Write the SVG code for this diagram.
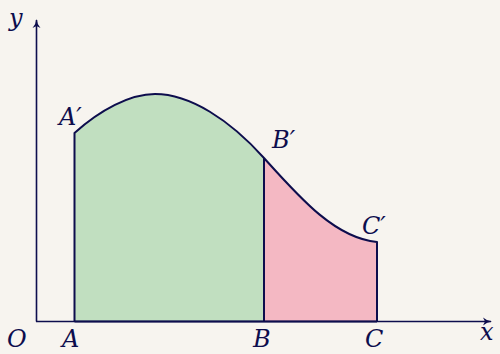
<svg xmlns="http://www.w3.org/2000/svg" width="500" height="354" viewBox="0 0 500 354">
<style>
.ln{fill:none;stroke:#0d0d4d;stroke-width:2;stroke-linejoin:round}
.ax{fill:none;stroke:#0d0d4d;stroke-width:1.6}
.lb{font-family:"DejaVu Serif","Liberation Serif",serif;font-style:italic;font-size:24px;fill:#0d0d4d}
.pr{font-size:30px}
</style>
<defs>
<marker id="ar" viewBox="0 0 10 10" refX="8" refY="5" markerWidth="10" markerHeight="10" markerUnits="userSpaceOnUse" orient="auto">
<path d="M0,1 Q4,4.5 9,5 Q4,5.5 0,9 L2,5 Z" fill="#0d0d4d"/>
</marker>
</defs>
<rect width="500" height="354" fill="#f7f4ef"/>
<g id="regions">
<path id="green" d="M74.5,321.5 L74.5,133 C100,110 130,94 155,94 C190,94 230,120 264,158 L264,321.5 Z" fill="#c1dfc0"/>
<path id="pink" d="M264,321.5 L264,158 C300,198 335,238 377,242 L377,321.5 Z" fill="#f4b8c3"/>
</g>
<g id="connectors">
<line class="ax" x1="36.5" y1="321.5" x2="36.5" y2="20" marker-end="url(#ar)"/>
<line class="ax" x1="36" y1="321.5" x2="491" y2="321.5" marker-end="url(#ar)"/>
<path class="ln" d="M74.5,321.5 L74.5,133 C100,110 130,94 155,94 C190,94 230,120 264,158 C300,198 335,238 377,242 L377,321.5"/>
<line class="ln" x1="264" y1="158" x2="264" y2="321.5"/>
<line class="ln" x1="74.5" y1="321.5" x2="377" y2="321.5"/>
</g>
<g id="labels">
<text class="lb" x="9" y="26">y</text>
<text class="lb" x="59" y="125">A′</text>
<text class="lb" x="272" y="148">B′</text>
<text class="lb" x="362" y="234">C′</text>
<text class="lb" x="7" y="347">O</text>
<text class="lb" x="62" y="347">A</text>
<text class="lb" x="253" y="347">B</text>
<text class="lb" x="365" y="347">C</text>
<text class="lb" x="480" y="340">x</text>
</g>
</svg>
